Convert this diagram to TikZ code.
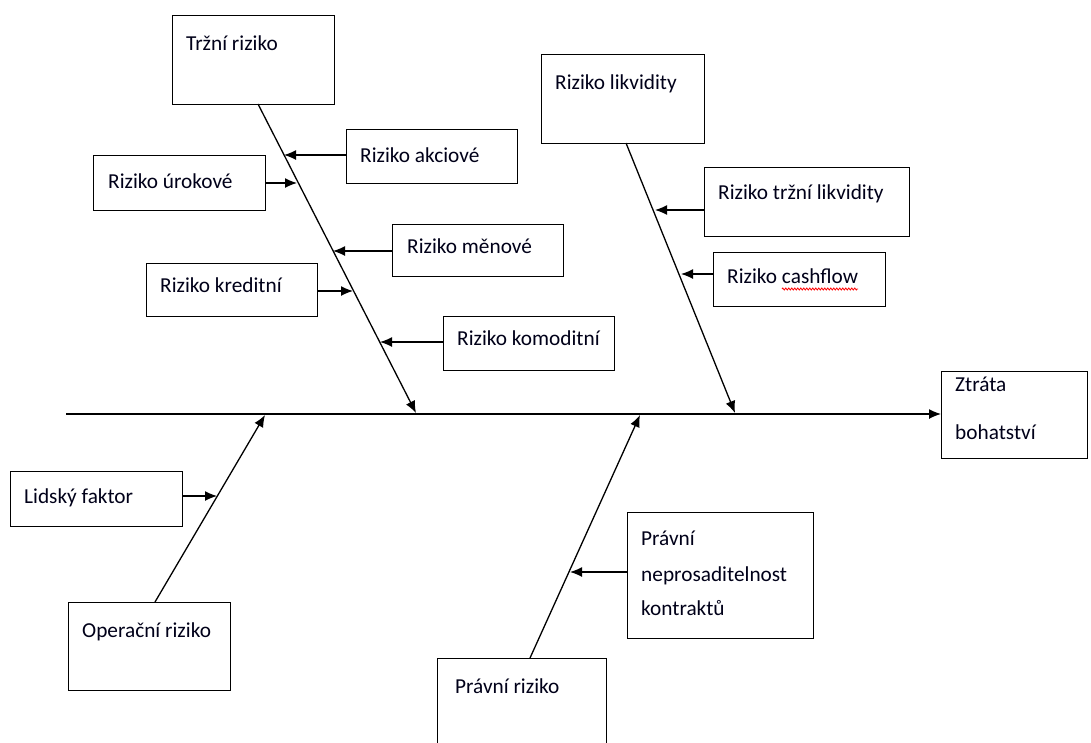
\documentclass[tikz,border=0pt]{standalone}
\usepackage{fontspec}
\setmainfont{Carlito}
\usetikzlibrary{arrows.meta,calc,decorations.pathmorphing}
\begin{document}
\begin{tikzpicture}[x=1pt,y=-1pt,
  box/.style={draw=black,line width=1.4pt,rectangle,anchor=north west,inner sep=0pt},
  lbl/.style={anchor=base west,inner sep=0pt,font=\fontsize{21.3}{25}\selectfont,text=black!90!blue},
  arr/.style={line width=1.3pt,-{Latex[length=12pt,width=10pt]}}]
\useasboundingbox[fill=white] (0,0) rectangle (1091,742);
% boxes
\node[box,minimum width=162,minimum height=89] (trzni) at (172,15) {};
\node[lbl] (trzniT) at (186,50) {Tržní riziko};
\node[box,minimum width=171,minimum height=54] (akc) at (346,129) {};
\node[lbl] (akcT) at (360,162) {Riziko akciové};
\node[box,minimum width=172,minimum height=55] (uro) at (93,155) {};
\node[lbl] (uroT) at (108,188) {Riziko úrokové};
\node[box,minimum width=171,minimum height=52] (men) at (392,224) {};
\node[lbl] (menT) at (407,253) {Riziko měnové};
\node[box,minimum width=171,minimum height=53] (kre) at (146,263) {};
\node[lbl] (kreT) at (160,292) {Riziko kreditní};
\node[box,minimum width=171,minimum height=54] (kom) at (443,316) {};
\node[lbl] (komT) at (457,345) {Riziko komoditní};
\node[box,minimum width=163,minimum height=89] (lik) at (541,54) {};
\node[lbl] (likT) at (555,89) {Riziko likvidity};
\node[box,minimum width=205,minimum height=69] (tlik) at (704,167) {};
\node[lbl] (tlikT) at (718,199) {Riziko tržní likvidity};
\node[box,minimum width=172,minimum height=54] (cash) at (713,252) {};
\node[lbl] (cashT) at (727,283) {Riziko cashflow};
\coordinate (wavA) at (782,289);
\coordinate (wavB) at (858,289);
\draw[red,line width=0.8pt,decorate,decoration={zigzag,segment length=3pt,amplitude=1pt}] (wavA) -- (wavB);
\node[box,minimum width=146,minimum height=87] (ztr) at (941,371) {};
\node[lbl] (ztrT1) at (955,391) {Ztráta};
\node[lbl] (ztrT2) at (955,439) {bohatství};
\node[box,minimum width=172,minimum height=55] (lid) at (10,471) {};
\node[lbl] (lidT) at (24,503) {Lidský faktor};
\node[box,minimum width=162,minimum height=88] (ope) at (68,602) {};
\node[lbl] (opeT) at (82,637) {Operační riziko};
\node[box,minimum width=186,minimum height=126] (kon) at (627,512) {};
\node[lbl] (konT1) at (641,545) {Právní};
\node[lbl] (konT2) at (641,581) {neprosaditelnost};
\node[lbl] (konT3) at (641,615) {kontraktů};
\node[box,minimum width=169,minimum height=100] (pra) at (437,658) {};
\node[lbl] (praT) at (455,693) {Právní riziko};
% spine
\coordinate (spS) at (66,414);
\draw[arr] (spS) -- (ztr.west |- spS);
% branch coordinates
\coordinate (trzniB) at (258,104);
\coordinate (trzniE) at (416,413);
\coordinate (likB) at (626,143);
\coordinate (likE) at (735,413);
\coordinate (opeB) at (155,602);
\coordinate (opeE) at (265,415);
\coordinate (praB) at (530,658);
\coordinate (praE) at (640,415);
\draw[arr] (trzniB) -- (trzniE);
\draw[arr] (likB) -- (likE);
\draw[arr] (opeB) -- (opeE);
\draw[arr] (praB) -- (praE);
% sub-arrow tips
\coordinate (akcP) at (284,155);
\coordinate (uroP) at (297,183);
\coordinate (menP) at (333,251);
\coordinate (kreP) at (353,291);
\coordinate (komP) at (380,342);
\coordinate (tlikP) at (655,210);
\coordinate (cashP) at (681,274);
\coordinate (lidP) at (217,496);
\coordinate (konP) at (570,572);
\draw[arr] (akc.west |- akcP) -- (akcP);
\draw[arr] (uro.east |- uroP) -- (uroP);
\draw[arr] (men.west |- menP) -- (menP);
\draw[arr] (kre.east |- kreP) -- (kreP);
\draw[arr] (kom.west |- komP) -- (komP);
\draw[arr] (tlik.west |- tlikP) -- (tlikP);
\draw[arr] (cash.west |- cashP) -- (cashP);
\draw[arr] (lid.east |- lidP) -- (lidP);
\draw[arr] (kon.west |- konP) -- (konP);
\end{tikzpicture}
\end{document}
